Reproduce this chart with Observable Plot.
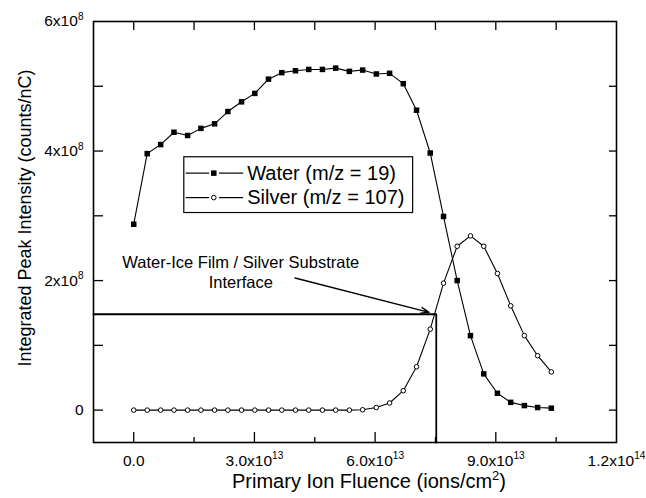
<!DOCTYPE html>
<html><head><meta charset="utf-8">
<script src="https://cdn.jsdelivr.net/npm/d3@7"></script>
<script src="https://cdn.jsdelivr.net/npm/@observablehq/plot@0.6"></script>
<style>
html,body{margin:0;padding:0;background:#fff;}
</style>
</head><body>
<div id="chart"></div>
<script>
// Primary ion fluence, in units of 1e13 ions/cm²
const fluence = [0, 0.335, 0.67, 1.00, 1.34, 1.67, 2.01, 2.34, 2.68, 3.01, 3.35, 3.68, 4.02, 4.35, 4.69, 5.02,
                 5.36, 5.69, 6.03, 6.36, 6.70, 7.03, 7.37, 7.70, 8.04, 8.37, 8.70, 9.04, 9.37, 9.71, 10.04, 10.38];
// Integrated peak intensity, in units of 1e8 counts/nC
const water  = [2.87, 3.96, 4.10, 4.29, 4.24, 4.35, 4.42, 4.61, 4.76, 4.89, 5.11, 5.21, 5.24, 5.26, 5.26, 5.28,
                5.23, 5.25, 5.19, 5.20, 5.04, 4.63, 3.97, 2.99, 2.00, 1.15, 0.56, 0.26, 0.12, 0.07, 0.04, 0.03];
const silver = [0, 0, 0, 0, 0, 0, 0, 0, 0, 0, 0, 0, 0, 0, 0, 0,
                0, 0.005, 0.04, 0.11, 0.30, 0.67, 1.25, 1.96, 2.53, 2.69, 2.53, 2.11, 1.61, 1.15, 0.84, 0.59];
const seriesNames = ["Water (m/z = 19)", "Silver (m/z = 107)"];

const xTicks = [0, 3, 6, 9, 12];
const xTickLabels = ["0.0", "3.0x10{13}", "6.0x10{13}", "9.0x10{13}", "1.2x10{14}"];
const xMajorTicks = [0, 3, 6, 9];
const xMinorTicks = [1.5, 4.5, 7.5, 10.5];
const yTicks = [0, 2, 4, 6];
const yTickLabels = ["0", "2x10{8}", "4x10{8}", "6x10{8}"];
const yAllTicks = [0, 1, 2, 3, 4, 5];

const xTitle = "Primary Ion Fluence (ions/cm{2})";
const yTitle = "Integrated Peak Intensity (counts/nC)";
const noteText = "Water-Ice Film / Silver Substrate\nInterface";
const interfaceFluence = 7.52;
const interfaceIntensity = 1.48;

const W = 646, H = 498, mL = 93, mR = 30, mT = 21, mB = 56;
const fw = W - mL - mR, fh = H - mT - mB;
const font = "'Liberation Sans', Arial, Helvetica, sans-serif";

const waterData = fluence.map((f, i) => ({f, v: water[i]}));
const silverData = fluence.map((f, i) => ({f, v: silver[i]}));
const refPath = [[-1, interfaceIntensity], [interfaceFluence, interfaceIntensity], [interfaceFluence, -0.5]];
const legendRows = [
  {name: seriesNames[0], y: 3.659, kind: "water"},
  {name: seriesNames[1], y: 3.281, kind: "silver"}
];

const plot = Plot.plot({
  width: W, height: H,
  marginLeft: mL, marginRight: mR, marginTop: mT, marginBottom: mB,
  style: {fontFamily: font, fontSize: "15px", background: "white", color: "black", overflow: "visible"},
  x: {domain: [-1, 12]},
  y: {domain: [-0.5, 6]},
  marks: [
    // interface reference lines
    Plot.line(refPath, {x: d => d[0], y: d => d[1], stroke: "black", strokeWidth: 1.8}),
    // silver series
    Plot.line(silverData, {x: "f", y: "v", stroke: "black", strokeWidth: 1.1}),
    Plot.dot(silverData, {x: "f", y: "v", r: 2.3, fill: "white", stroke: "black", strokeWidth: 1}),
    // water series
    Plot.line(waterData, {x: "f", y: "v", stroke: "black", strokeWidth: 1.1}),
    Plot.dot(waterData, {x: "f", y: "v", symbol: "square", r: 3.1, fill: "black", stroke: "none"}),
    // frame and inward ticks
    Plot.frame({stroke: "black", strokeWidth: 1.6}),
    Plot.tickX(xMajorTicks, {x: d => d, insetTop: fh - 10, stroke: "black", strokeWidth: 1.3}),
    Plot.tickX(xMinorTicks, {x: d => d, insetTop: fh - 5, stroke: "black", strokeWidth: 1.3}),
    Plot.tickX(xMajorTicks.concat(xMinorTicks), {x: d => d, insetBottom: fh - 9, stroke: "black", strokeWidth: 1.3}),
    Plot.tickY(yAllTicks, {y: d => d, insetRight: fw - 10, stroke: "black", strokeWidth: 1.3}),
    Plot.tickY(yAllTicks, {y: d => d, insetLeft: fw - 7, stroke: "black", strokeWidth: 1.3}),
    // axes (labels only)
    Plot.axisX(xTicks, {tickFormat: d => xTickLabels[xTicks.indexOf(d)], tickSize: 0, tickPadding: 12, fontSize: 15.5, label: null}),
    Plot.axisY(yTicks, {tickFormat: d => yTickLabels[yTicks.indexOf(d)], tickSize: 0, tickPadding: 10, fontSize: 15.5, label: null}),
    // axis titles
    Plot.text([xTitle], {text: d => d, frameAnchor: "bottom", textAnchor: "middle", dx: 14, dy: 45.6, fontSize: 20}),
    Plot.text([yTitle], {text: d => d, frameAnchor: "left", textAnchor: "middle", rotate: -90, dx: -68, dy: -14, fontSize: 18}),
    // annotation
    Plot.text([noteText], {text: d => d, x: 2.66, y: 2.133, fontSize: 16.5, lineHeight: 1.21, textAnchor: "middle"}),
    Plot.arrow([0], {x1: 4.01, y1: 2.04, x2: 7.34, y2: 1.51, stroke: "black", strokeWidth: 1.4, headLength: 9, headAngle: 40}),
    // legend
    Plot.rect([0], {x1: 1.257, x2: 6.945, y1: 3.043, y2: 3.904, fill: "white", stroke: "black", strokeWidth: 1.2}),
    Plot.link(legendRows, {x1: 1.29, x2: 1.875, y1: "y", y2: "y", stroke: "black", strokeWidth: 1.2}),
    Plot.link(legendRows, {x1: 2.12, x2: 2.72, y1: "y", y2: "y", stroke: "black", strokeWidth: 1.2}),
    Plot.dot(legendRows.filter(d => d.kind === "water"), {x: 1.99, y: "y", symbol: "square", r: 3.1, fill: "black", stroke: "none"}),
    Plot.dot(legendRows.filter(d => d.kind === "silver"), {x: 1.99, y: "y", r: 2.3, fill: "white", stroke: "black", strokeWidth: 1}),
    Plot.text(legendRows, {x: 2.82, y: "y", text: "name", textAnchor: "start", fontSize: 20})
  ]
});

document.getElementById("chart").appendChild(plot);

// Render {..} segments as superscripts
function supify(root) {
  const ns = "http://www.w3.org/2000/svg";
  root.querySelectorAll("text, tspan").forEach(node => {
    if (node.children.length) return;
    const s = node.textContent;
    if (!s.includes("{")) return;
    const fs = parseFloat(getComputedStyle(node).fontSize) || 15;
    const parts = s.split(/(\{[^}]*\})/);
    node.textContent = "";
    let shifted = false;
    for (const p of parts) {
      if (!p) continue;
      const t = document.createElementNS(ns, "tspan");
      if (p.startsWith("{")) {
        t.textContent = p.slice(1, -1);
        t.setAttribute("font-size", (fs * 0.65).toFixed(1));
        t.setAttribute("dy", (-fs * 0.42).toFixed(1));
        shifted = true;
      } else {
        t.textContent = p;
        if (shifted) { t.setAttribute("dy", (fs * 0.42).toFixed(1)); shifted = false; }
      }
      node.appendChild(t);
    }
  });
}
supify(plot);
</script>
</body></html>
